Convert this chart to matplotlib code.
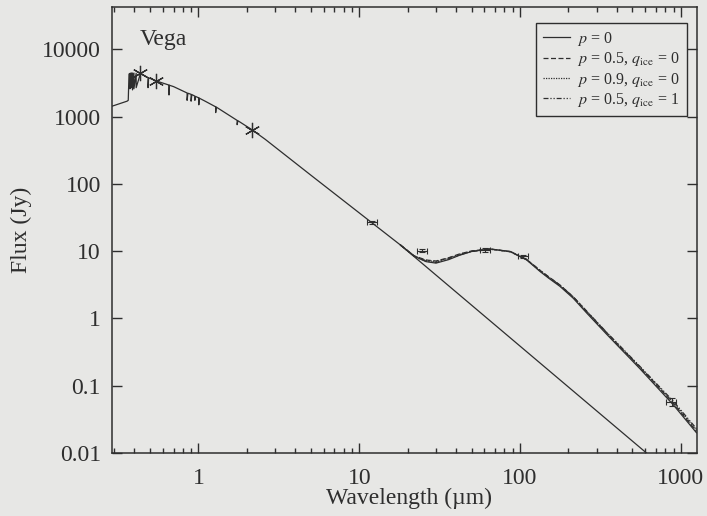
import numpy as np
import matplotlib as mpl
mpl.use('agg')
import matplotlib.pyplot as plt

## scanned-page look: paper grey, dark ink
paper = '#e7e7e5'
ink = '#2e2e2e'

plt.rcParams['font.family'] = ['Liberation Serif', 'DejaVu Serif']
plt.rcParams['mathtext.fontset'] = 'stix'

## stellar photosphere (wavelength um, flux Jy), dips are absorption lines
phot_wl = [0.29, 0.36, 0.366, 0.37, 0.375, 0.375, 0.38, 0.384, 0.384, 0.389,
           0.389, 0.397, 0.397, 0.41, 0.41, 0.436, 0.486, 0.486, 0.49, 0.546,
           0.656, 0.656, 0.66, 0.70, 0.85, 0.85, 0.86, 0.90, 0.90, 0.91,
           0.95, 0.95, 0.96, 1.005, 1.005, 1.01, 1.10, 1.28, 1.28, 1.29,
           1.74, 1.74, 1.76, 2.15, 2.6, 5.0, 12.0, 18.0, 611.0]
phot_f = [1430, 1700, 1750, 4300, 4400, 2600, 4450, 4450, 2700, 4450,
          2500, 4450, 2600, 4420, 2700, 4400, 3800, 2700, 3780, 3400,
          2950, 2100, 2930, 2800, 2250, 1750, 2230, 2150, 1700, 2130,
          2020, 1750, 2000, 1900, 1500, 1890, 1700, 1400, 1150, 1390,
          880, 760, 870, 640, 461, 135, 26.4, 12.4, 0.01]

## photosphere + disk models
dust_wl = [18, 22, 26, 30, 36, 42, 50, 65, 87, 110, 133, 150, 177, 214, 260,
           346, 555, 897, 1250]
f_p00 = [12.4, 8.4, 7.0, 6.65, 7.5, 8.7, 9.9, 10.8, 9.9, 7.4, 5.0, 4.0, 3.0,
         2.0, 1.2, 0.58, 0.18, 0.052, 0.020]
f_p05 = [12.4, 8.5, 7.4, 7.15, 8.0, 9.1, 10.1, 10.8, 9.8, 7.5, 5.2, 4.2, 3.15,
         2.1, 1.27, 0.61, 0.19, 0.055, 0.021]
f_p09 = [12.4, 8.5, 7.3, 7.0, 7.9, 9.0, 10.0, 10.7, 9.8, 7.5, 5.1, 4.1, 3.1,
         2.08, 1.26, 0.61, 0.19, 0.057, 0.022]
f_p05i = [12.4, 8.4, 7.1, 6.8, 7.7, 8.8, 9.9, 10.7, 9.9, 7.5, 5.2, 4.15, 3.12,
          2.1, 1.28, 0.62, 0.195, 0.059, 0.023]
model_labels = [r'$p$ = 0', r'$p$ = 0.5, $q_{\rm ice}$ = 0',
                r'$p$ = 0.9, $q_{\rm ice}$ = 0', r'$p$ = 0.5, $q_{\rm ice}$ = 1']

## optical/near-IR photometry (asterisks)
opt_wl = [0.436, 0.546, 2.15]
opt_f = [4460, 3350, 630]

## IR / submm photometry (small error boxes)
ir_wl = [12.0, 24.5, 60.6, 104.0, 875.0]
ir_f = [27.0, 10.2, 10.4, 8.35, 0.058]
ir_ferr = [1.5, 0.6, 0.6, 0.5, 0.008]

fig = plt.figure(figsize=(7.07, 5.16), dpi=100, facecolor=paper)
ax = fig.add_axes([0.1584, 0.1221, 0.8275, 0.8634])
ax.set_facecolor(paper)

ax.plot(phot_wl, phot_f, color=ink, lw=0.9)
ax.plot(dust_wl, f_p00, color=ink, lw=0.9, ls='-', label=model_labels[0])
ax.plot(dust_wl, f_p05, color=ink, lw=0.9, ls=(0, (4, 2)), label=model_labels[1])
ax.plot(dust_wl, f_p09, color=ink, lw=0.9, ls=(0, (1, 1)), label=model_labels[2])
ax.plot(dust_wl, f_p05i, color=ink, lw=0.9, ls=(0, (4, 1.5, 1, 1.5, 1, 1.5)),
        label=model_labels[3])

ax.plot(opt_wl, opt_f, ls='none', marker=(6, 2, 0), ms=11, mew=0.9, color=ink)
ir_xerr = [np.array(ir_wl) * 0.07, np.array(ir_wl) * 0.07]
ax.errorbar(ir_wl, ir_f, xerr=ir_xerr, yerr=ir_ferr, fmt='none', ecolor=ink,
            elinewidth=0.8, capsize=2, capthick=0.8)

ax.set_xscale('log')
ax.set_yscale('log')
ax.set_xlim(0.29, 1260)
ax.set_ylim(0.01, 4.2e4)

ax.set_yticks([0.01, 0.1, 1, 10, 100, 1000, 10000])
ax.set_yticklabels(['0.01', '0.1', '1', '10', '100', '1000', '10000'])
ax.yaxis.set_minor_locator(mpl.ticker.NullLocator())
ax.set_xticks([1, 10, 100, 1000])
ax.set_xticklabels(['1', '10', '100', '1000'])
ax.xaxis.set_minor_locator(mpl.ticker.LogLocator(base=10, subs=np.arange(2, 10)))
ax.xaxis.set_minor_formatter(mpl.ticker.NullFormatter())

ax.tick_params(which='both', direction='in', top=True, right=True, colors=ink,
               labelsize=17, width=1.0)
ax.tick_params(which='major', length=7.5)
ax.tick_params(which='minor', length=3.5)
ax.tick_params(axis='x', pad=11)
ax.tick_params(axis='y', pad=8)
for s in ax.spines.values():
    s.set_color(ink)
    s.set_linewidth(1.1)

ax.set_xlabel('Wavelength (\u00b5m)', fontsize=17, color=ink)
ax.xaxis.set_label_coords(0.508, -0.079)
ax.set_ylabel('Flux (Jy)', fontsize=17, color=ink)
ax.yaxis.set_label_coords(-0.137, 0.5)

ax.text(0.048, 0.928, 'Vega', transform=ax.transAxes, fontsize=17,
        color=ink, va='center', ha='left')

leg = ax.legend(loc='upper right', bbox_to_anchor=(0.983, 0.966),
                borderaxespad=0, fontsize=11.5, frameon=True, fancybox=False,
                handlelength=1.7, handletextpad=0.45, labelspacing=0.15,
                borderpad=0.45)
leg.get_frame().set_edgecolor(ink)
leg.get_frame().set_facecolor(paper)
leg.get_frame().set_linewidth(1.0)
leg.get_frame().set_alpha(1)
for t in leg.get_texts():
    t.set_color(ink)

fig.savefig('out.png', dpi=100, facecolor=paper)
